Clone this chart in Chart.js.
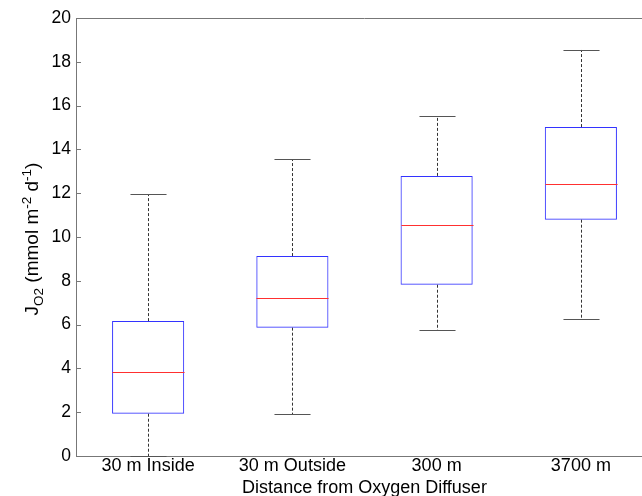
<!DOCTYPE html>
<html>
<head>
<meta charset="utf-8">
<script src="https://cdn.jsdelivr.net/npm/chart.js@4.4.0/dist/chart.umd.min.js"></script>
<style>
    html, body { margin: 0; padding: 0; background: #fff; overflow: hidden; }
    #wrap { width: 660px; height: 496px; }
</style>
</head>
<body>
<div id="wrap"><canvas id="boxChart" width="660" height="496"></canvas></div>
<script>
// box plot values
const categories = ['30 m Inside', '30 m Outside', '300 m', '3700 m']
const whiskerLow = [0, 1.9, 5.74, 6.24]
const q1 = [1.93, 5.86, 7.82, 10.79]
const median = [3.84, 7.21, 10.56, 12.42]
const q3 = [6.16, 9.13, 12.79, 15.02]
const whiskerHigh = [11.96, 13.56, 15.53, 18.54]
const yTicks = [0, 2, 4, 6, 8, 10, 12, 14, 16, 18, 20]

const FONT = "'Liberation Sans', Arial, Helvetica, sans-serif"

// whiskers, caps, medians, inner ticks, top frame and the y title
const boxExtras = {
    id: 'boxExtras',
    afterDatasetsDraw(chart) {
        const ctx = chart.ctx
        const x = chart.scales.x
        const y = chart.scales.y
        const area = chart.chartArea
        const half = x.getPixelForValue(1) - x.getPixelForValue(0)
        const boxHalf = half * 0.25
        const capHalf = half * 0.125

        ctx.save()
        ctx.beginPath()
        ctx.rect(area.left, area.top, area.right - area.left, area.bottom - area.top + 1)
        ctx.clip()

        categories.forEach((c, i) => {
            const cx = Math.round(x.getPixelForValue(i)) + 0.5
            // dashed whiskers
            ctx.strokeStyle = '#333'
            ctx.lineWidth = 1
            ctx.setLineDash([3, 2])
            ctx.beginPath()
            ctx.moveTo(cx, y.getPixelForValue(q3[i]))
            ctx.lineTo(cx, y.getPixelForValue(whiskerHigh[i]))
            ctx.moveTo(cx, y.getPixelForValue(q1[i]))
            ctx.lineTo(cx, y.getPixelForValue(whiskerLow[i]))
            ctx.stroke()
            // caps
            ctx.setLineDash([])
            ctx.strokeStyle = '#555'
            ctx.beginPath()
            const hi = Math.round(y.getPixelForValue(whiskerHigh[i])) + 0.5
            const lo = Math.round(y.getPixelForValue(whiskerLow[i])) + 0.5
            ctx.moveTo(cx - capHalf, hi)
            ctx.lineTo(cx + capHalf, hi)
            ctx.moveTo(cx - capHalf, lo)
            ctx.lineTo(cx + capHalf, lo)
            ctx.stroke()
            // median
            ctx.strokeStyle = '#ff3030'
            ctx.beginPath()
            const m = Math.round(y.getPixelForValue(median[i])) + 0.5
            ctx.moveTo(cx - boxHalf, m)
            ctx.lineTo(cx + boxHalf, m)
            ctx.stroke()
        })
        ctx.restore()

        // inner y ticks + top frame line
        ctx.save()
        ctx.strokeStyle = '#777'
        ctx.lineWidth = 1
        ctx.beginPath()
        yTicks.forEach(v => {
            const py = Math.round(y.getPixelForValue(v)) + 0.5
            ctx.moveTo(area.left, py)
            ctx.lineTo(area.left + 5, py)
        })
        ctx.moveTo(area.left, area.top + 0.5)
        ctx.lineTo(area.right, area.top + 0.5)
        ctx.stroke()
        ctx.restore()

        // y axis title with sub/superscripts
        const parts = [
            { t: 'J', s: 19, dy: 0 },
            { t: 'O2', s: 13.5, dy: 5 },
            { t: ' (mmol m', s: 19, dy: 0 },
            { t: '-2', s: 13.5, dy: -7 },
            { t: ' d', s: 19, dy: 0 },
            { t: '-1', s: 13.5, dy: -7 },
            { t: ')', s: 19, dy: 0 }
        ]
        ctx.save()
        ctx.fillStyle = '#000'
        ctx.textBaseline = 'alphabetic'
        ctx.translate(38, 239)
        ctx.rotate(-Math.PI / 2)
        let total = 0
        parts.forEach(p => {
            ctx.font = p.s + 'px ' + FONT
            p.w = ctx.measureText(p.t).width
            total += p.w
        })
        let px = -total / 2
        parts.forEach(p => {
            ctx.font = p.s + 'px ' + FONT
            ctx.fillText(p.t, px, p.dy)
            px += p.w
        })
        ctx.restore()
    }
}

const ctx = document.getElementById('boxChart').getContext('2d')

new Chart(ctx, {
    type: 'bar',
    data: {
        labels: categories,
        datasets: [{
            label: 'box',
            data: categories.map((c, i) => [q1[i], q3[i]]),
            backgroundColor: 'rgba(0,0,0,0)',
            borderColor: '#3333ff',
            borderWidth: 1,
            borderSkipped: false,
            barPercentage: 0.5,
            categoryPercentage: 1.0
        }]
    },
    options: {
        responsive: false,
        animation: false,
        layout: { padding: { top: 18, right: 7, left: 0, bottom: 0 } },
        plugins: {
            legend: { display: false },
            tooltip: { enabled: false }
        },
        scales: {
            x: {
                grid: { display: false, drawTicks: false },
                border: { display: true, color: '#777' },
                ticks: { color: '#000', font: { family: FONT, size: 18 }, padding: -1 },
                title: {
                    display: true,
                    text: 'Distance from Oxygen Diffuser',
                    color: '#000',
                    font: { family: FONT, size: 18 },
                    padding: { top: 0, bottom: -3 }
                },
                afterFit: s => { s.height = 40 }
            },
            y: {
                min: 0,
                max: 20,
                grid: { display: false, drawTicks: false },
                border: { display: true, color: '#777' },
                ticks: {
                    stepSize: 2,
                    color: '#000',
                    font: { family: FONT, size: 17.5 },
                    padding: 5
                },
                afterFit: s => { s.width = 76 }
            }
        }
    },
    plugins: [boxExtras]
})
</script>
</body>
</html>
